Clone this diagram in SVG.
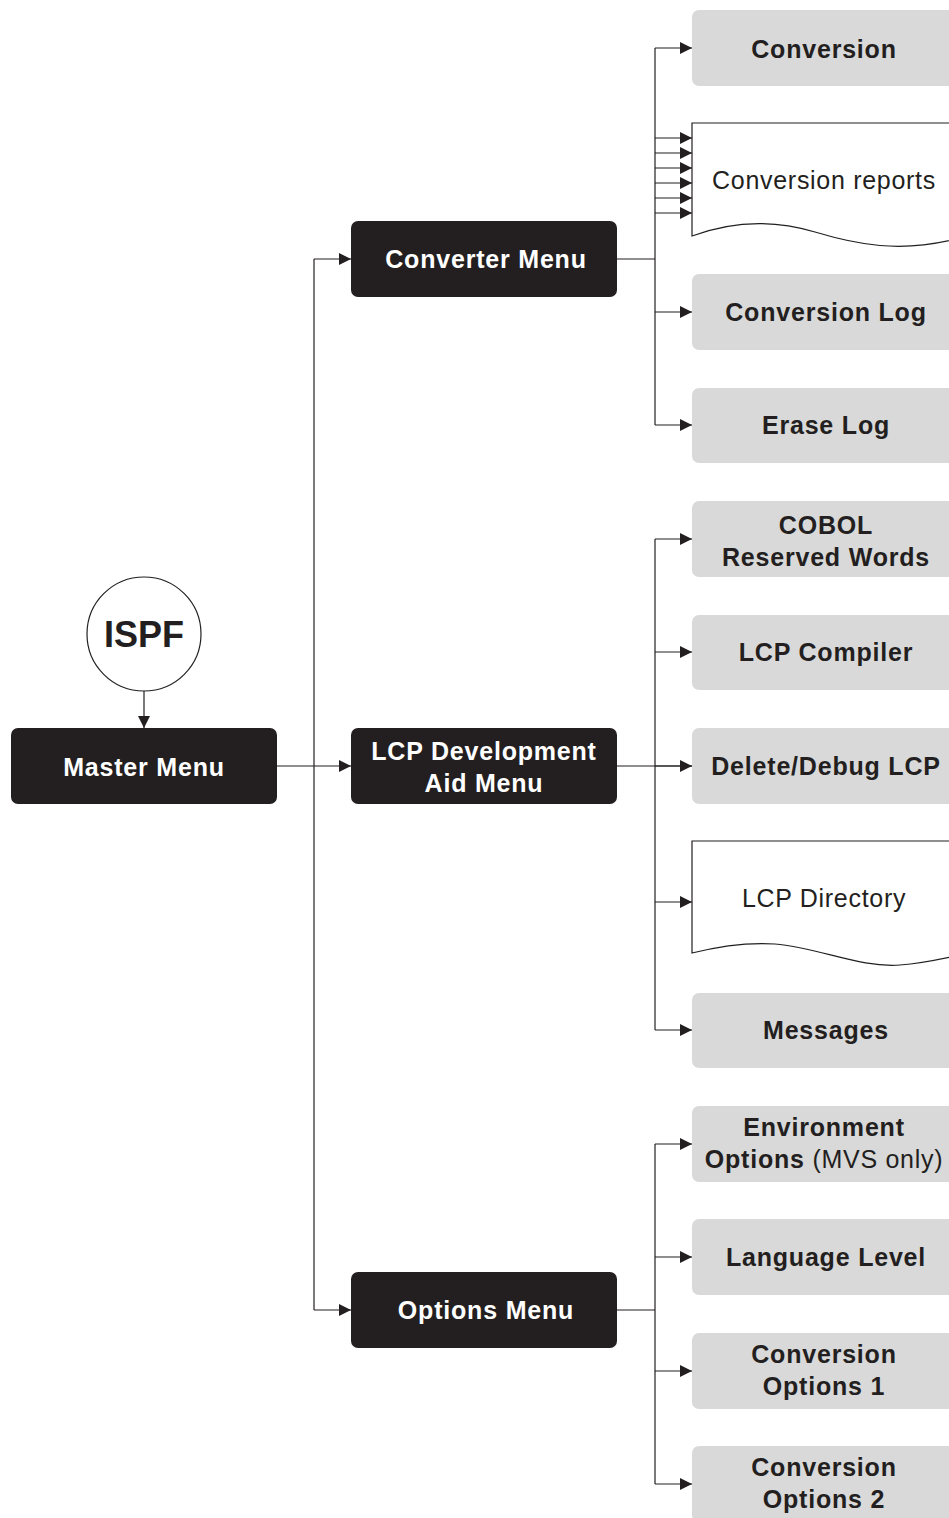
<svg xmlns="http://www.w3.org/2000/svg" width="949" height="1518" viewBox="0 0 949 1518">
<defs>
<marker id="ah" viewBox="0 0 12 12" refX="12" refY="6" markerWidth="12" markerHeight="12" markerUnits="userSpaceOnUse" orient="auto">
<path d="M0,0 L12,6 L0,12 Z" fill="#231f20"/>
</marker>
<style>
.dark{fill:#231f20}
.gray{fill:#d9d9d9}
.doc{fill:#fff;stroke:#231f20;stroke-width:1.2}
.wt{fill:#fff;font-family:"Liberation Sans",Arial,sans-serif;font-weight:bold;font-size:25px;letter-spacing:0.8px;text-anchor:middle}
.bt{fill:#231f20;font-family:"Liberation Sans",Arial,sans-serif;font-weight:bold;font-size:25px;letter-spacing:0.8px;text-anchor:middle}
.rt{fill:#231f20;font-family:"Liberation Sans",Arial,sans-serif;font-weight:normal;font-size:25px;letter-spacing:0.7px;text-anchor:middle}
.ln{fill:none;stroke:#231f20;stroke-width:1.2}
.ar{fill:none;stroke:#231f20;stroke-width:1.2;marker-end:url(#ah)}
</style>
</defs>
<rect width="949" height="1518" fill="#fff"/>

<g id="connectors">
<line class="ar" x1="144" y1="691" x2="144" y2="728"/>
<line class="ln" x1="277" y1="766" x2="314" y2="766"/>
<line class="ln" x1="314" y1="259" x2="314" y2="1310"/>
<line class="ar" x1="314" y1="259" x2="351" y2="259"/>
<line class="ar" x1="314" y1="766" x2="351" y2="766"/>
<line class="ar" x1="314" y1="1310" x2="351" y2="1310"/>
<!-- converter branch -->
<line class="ln" x1="617" y1="259" x2="655" y2="259"/>
<line class="ln" x1="655" y1="48" x2="655" y2="425"/>
<line class="ar" x1="655" y1="48" x2="692" y2="48"/>
<line class="ar" x1="655" y1="138" x2="692" y2="138"/>
<line class="ar" x1="655" y1="153" x2="692" y2="153"/>
<line class="ar" x1="655" y1="168" x2="692" y2="168"/>
<line class="ar" x1="655" y1="183" x2="692" y2="183"/>
<line class="ar" x1="655" y1="198" x2="692" y2="198"/>
<line class="ar" x1="655" y1="213" x2="692" y2="213"/>
<line class="ar" x1="655" y1="312" x2="692" y2="312"/>
<line class="ar" x1="655" y1="425" x2="692" y2="425"/>
<!-- LCP branch -->
<line class="ln" x1="617" y1="766" x2="692" y2="766"/>
<line class="ln" x1="655" y1="539" x2="655" y2="1030"/>
<line class="ar" x1="655" y1="539" x2="692" y2="539"/>
<line class="ar" x1="655" y1="652" x2="692" y2="652"/>
<line class="ar" x1="655" y1="766" x2="692" y2="766"/>
<line class="ar" x1="655" y1="902" x2="692" y2="902"/>
<line class="ar" x1="655" y1="1030" x2="692" y2="1030"/>
<!-- options branch -->
<line class="ln" x1="617" y1="1310" x2="655" y2="1310"/>
<line class="ln" x1="655" y1="1144" x2="655" y2="1484"/>
<line class="ar" x1="655" y1="1144" x2="692" y2="1144"/>
<line class="ar" x1="655" y1="1257" x2="692" y2="1257"/>
<line class="ar" x1="655" y1="1371" x2="692" y2="1371"/>
<line class="ar" x1="655" y1="1484" x2="692" y2="1484"/>
</g>

<g id="ispf">
<circle cx="144" cy="634" r="57" fill="#fff" stroke="#231f20" stroke-width="1.2"/>
<text x="144" y="647" class="bt" style="font-size:36px;letter-spacing:0">ISPF</text>
</g>
<g id="master-menu">
<rect class="dark" x="11" y="728" width="266" height="76" rx="7"/>
<text x="144" y="776" class="wt">Master Menu</text>
</g>
<g id="converter-menu">
<rect class="dark" x="351" y="221" width="266" height="76" rx="7"/>
<text x="486" y="268" class="wt">Converter Menu</text>
</g>
<g id="lcp-dev-menu">
<rect class="dark" x="351" y="728" width="266" height="76" rx="7"/>
<text x="484" y="760" class="wt">LCP Development</text>
<text x="484" y="792" class="wt">Aid Menu</text>
</g>
<g id="options-menu">
<rect class="dark" x="351" y="1272" width="266" height="76" rx="7"/>
<text x="486" y="1319" class="wt">Options Menu</text>
</g>

<g id="conversion">
<rect class="gray" x="692" y="10" width="270" height="76" rx="7"/>
<text x="824" y="58" class="bt">Conversion</text>
</g>
<g id="conversion-reports">
<path class="doc" d="M960,123 L692,123 L692,236 C735,220 775,220 815,232 C855,244 900,254 960,238"/>
<text x="824" y="189" class="rt">Conversion reports</text>
</g>
<g id="conversion-log">
<rect class="gray" x="692" y="274" width="270" height="76" rx="7"/>
<text x="826" y="321" class="bt">Conversion Log</text>
</g>
<g id="erase-log">
<rect class="gray" x="692" y="388" width="270" height="75" rx="7"/>
<text x="826" y="434" class="bt">Erase Log</text>
</g>
<g id="cobol-reserved-words">
<rect class="gray" x="692" y="501" width="270" height="76" rx="7"/>
<text x="826" y="534" class="bt">COBOL</text>
<text x="826" y="566" class="bt">Reserved Words</text>
</g>
<g id="lcp-compiler">
<rect class="gray" x="692" y="615" width="270" height="75" rx="7"/>
<text x="826" y="661" class="bt">LCP Compiler</text>
</g>
<g id="delete-debug-lcp">
<rect class="gray" x="692" y="728" width="270" height="76" rx="7"/>
<text x="826" y="775" class="bt">Delete/Debug LCP</text>
</g>
<g id="lcp-directory">
<path class="doc" d="M960,841 L692,841 L692,953 C720,946 745,942 775,944 C820,948 860,968 900,965 C925,963 945,958 960,955"/>
<text x="824" y="907" class="rt">LCP Directory</text>
</g>
<g id="messages">
<rect class="gray" x="692" y="993" width="270" height="75" rx="7"/>
<text x="826" y="1039" class="bt">Messages</text>
</g>
<g id="environment-options">
<rect class="gray" x="692" y="1106" width="270" height="76" rx="7"/>
<text x="824" y="1136" class="bt">Environment</text>
<text x="824" y="1168" class="bt">Options <tspan style="font-weight:normal;letter-spacing:0.7px">(MVS only)</tspan></text>
</g>
<g id="language-level">
<rect class="gray" x="692" y="1219" width="270" height="76" rx="7"/>
<text x="826" y="1266" class="bt">Language Level</text>
</g>
<g id="conversion-options-1">
<rect class="gray" x="692" y="1333" width="270" height="76" rx="7"/>
<text x="824" y="1363" class="bt">Conversion</text>
<text x="824" y="1395" class="bt">Options 1</text>
</g>
<g id="conversion-options-2">
<rect class="gray" x="692" y="1446" width="270" height="76" rx="7"/>
<text x="824" y="1476" class="bt">Conversion</text>
<text x="824" y="1508" class="bt">Options 2</text>
</g>
</svg>
